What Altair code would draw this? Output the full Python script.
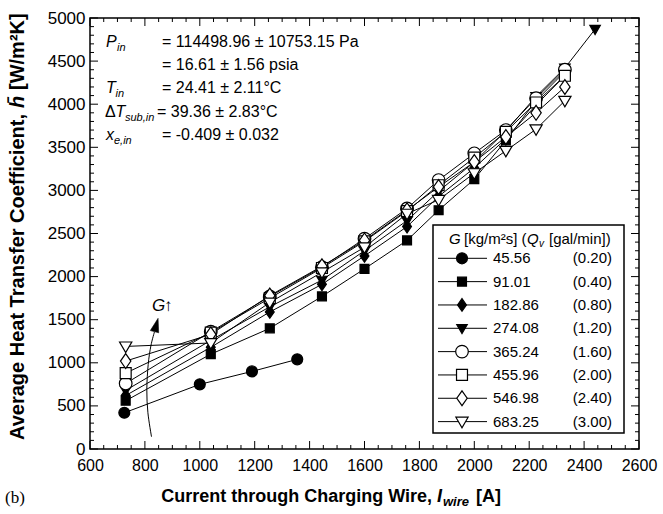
import altair as alt
import pandas as pd

W, H = 549, 431

# ---------------- data ----------------
G_labels = ["45.56", "91.01", "182.86", "274.08", "365.24", "455.96", "546.98", "683.25"]
Q_labels = ["(0.20)", "(0.40)", "(0.80)", "(1.20)", "(1.60)", "(2.00)", "(2.40)", "(3.00)"]

I_std = [730, 1040, 1255, 1445, 1600, 1755, 1870, 2000, 2115, 2225, 2330]
I_045 = [725, 1000, 1190, 1355]
h_045 = [420, 750, 900, 1040]
h_091 = [560, 1100, 1400, 1770, 2090, 2420, 2770, 3130, 3580, 4040, 4380]
h_183 = [620, 1180, 1590, 1910, 2240, 2580, 2930, 3260, 3600, 3990, 4330]
I_274 = I_std + [2440]
h_274 = [680, 1260, 1650, 1960, 2300, 2650, 2990, 3330, 3690, 4090, 4420, 4870]
h_365 = [760, 1360, 1770, 2110, 2440, 2790, 3120, 3430, 3700, 4070, 4400]
h_456 = [880, 1350, 1750, 2100, 2410, 2760, 3060, 3380, 3680, 4020, 4330]
h_547 = [1020, 1330, 1780, 2120, 2420, 2770, 3040, 3330, 3620, 3900, 4200]
h_683 = [1190, 1230, 1700, 2050, 2340, 2730, 2890, 3200, 3460, 3710, 4040]

arrow_I = [824, 811, 807, 812, 822, 835]
arrow_h = [143, 420, 690, 980, 1200, 1360]
arrow_tip_I = [848]
arrow_tip_h = [1516]

x_major = list(range(600, 2601, 200))
x_minor = [v for v in range(600, 2601, 50) if v % 200]
y_major = list(range(0, 5001, 500))
y_minor = [v for v in range(0, 5001, 100) if v % 500]

series_I = [I_045, I_std, I_std, I_274, I_std, I_std, I_std, I_std]
series_h = [h_045, h_091, h_183, h_274, h_365, h_456, h_547, h_683]

rows = []
for g, xs, ys in zip(G_labels, series_I, series_h):
    for a, b in zip(xs, ys):
        rows.append({"series": g, "I": a, "h": b})
df = pd.DataFrame(rows)

# ---------------- styles ----------------
DIAMOND = "M0,-1L0.7,0L0,1L-0.7,0Z"
TRI_DOWN = "M-1,-0.72L1,-0.72L0,1Z"
ARROW_HEAD = "M0,0L0.5,1.6L-0.5,1.6Z"
styles = [
    ("circle", "black", 120),
    ("square", "black", 80),
    (DIAMOND, "black", 160),
    (TRI_DOWN, "black", 110),
    ("circle", "white", 160),
    ("square", "white", 120),
    (DIAMOND, "white", 220),
    (TRI_DOWN, "white", 150),
]

FONT = "Liberation Sans"
xscale = alt.Scale(domain=[600, 2600], nice=False, zero=False)
yscale = alt.Scale(domain=[0, 5000], nice=False, zero=False)
xaxis = alt.Axis(values=x_major, title=None, labelFontSize=16, labelPadding=8,
                 format="d", labelFlush=False)
yaxis = alt.Axis(values=y_major, title=None, labelFontSize=17, labelPadding=5,
                 format="d", labelFlush=False)
one = pd.DataFrame({"k": [0]})


def X(f):
    return alt.X(f, scale=xscale, axis=xaxis)


def Y(f):
    return alt.Y(f, scale=yscale, axis=yaxis)


def txt(s, x, y, size=16, italic=False, bold=False, align="left",
        baseline="alphabetic", angle=0, font=FONT):
    return alt.Chart(one).mark_text(
        text=s, fontSize=size, font=font,
        fontStyle="italic" if italic else "normal",
        fontWeight="bold" if bold else "normal",
        align=align, baseline=baseline, angle=angle, color="black",
    ).encode(x=alt.value(x), y=alt.value(y))


layers = []

# main lines
layers.append(alt.Chart(df).mark_line(color="black", strokeWidth=1).encode(
    x=X("I:Q"), y=Y("h:Q"), detail="series:N", order="I:Q"))

# inward ticks on all four sides
for vals, ln in [(x_major, 8), (x_minor, 4)]:
    d = pd.DataFrame({"I": vals})
    layers.append(alt.Chart(d).mark_rule(color="black", strokeWidth=1).encode(
        x=X("I:Q"), y=alt.value(H), y2=alt.value(H - ln)))
    layers.append(alt.Chart(d).mark_rule(color="black", strokeWidth=1).encode(
        x=X("I:Q"), y=alt.value(0), y2=alt.value(ln)))
for vals, ln in [(y_major, 8), (y_minor, 4)]:
    d = pd.DataFrame({"h": vals})
    layers.append(alt.Chart(d).mark_rule(color="black", strokeWidth=1).encode(
        y=Y("h:Q"), x=alt.value(0), x2=alt.value(ln)))
    layers.append(alt.Chart(d).mark_rule(color="black", strokeWidth=1).encode(
        y=Y("h:Q"), x=alt.value(W), x2=alt.value(W - ln)))

# G arrow
arr = pd.DataFrame({"I": arrow_I, "h": arrow_h, "k": list(range(len(arrow_I)))})
layers.append(alt.Chart(arr).mark_line(color="black", strokeWidth=1, interpolate="cardinal").encode(
    x=X("I:Q"), y=Y("h:Q"), order="k:Q"))
tip = pd.DataFrame({"I": arrow_tip_I, "h": arrow_tip_h})
layers.append(alt.Chart(tip).mark_point(shape=ARROW_HEAD, size=300, filled=True, fill="black",
                                        stroke="black", strokeWidth=0.5, angle=15, opacity=1).encode(
    x=X("I:Q"), y=Y("h:Q")))
layers.append(txt("G", 62, 293, size=17, italic=True))
layers.append(txt("↑", 74, 293, size=17))

# markers per series
for g, (shp, fill, size) in zip(G_labels, styles):
    layers.append(alt.Chart(df[df.series == g]).mark_point(
        shape=shp, size=size, filled=True, fill=fill, stroke="black",
        strokeWidth=1.2, opacity=1).encode(x=X("I:Q"), y=Y("h:Q")))

# legend box
layers.append(alt.Chart(one).mark_rect(fill="white", stroke="black", strokeWidth=1.5).encode(
    x=alt.value(343), x2=alt.value(534), y=alt.value(207), y2=alt.value(415)))
layers.append(txt("G", 359, 226, size=15, italic=True))
layers.append(txt("[kg/m²s] (", 374, 226, size=15))
layers.append(txt("Q", 437, 226, size=15, italic=True))
layers.append(txt("v", 449, 229, size=10, italic=True))
layers.append(txt("[gal/min])", 459, 226, size=15))
for i, (g, q, (shp, fill, size)) in enumerate(zip(G_labels, Q_labels, styles)):
    py = 240.3 + i * 23.33
    layers.append(alt.Chart(one).mark_rule(color="black", strokeWidth=1).encode(
        x=alt.value(348), x2=alt.value(397), y=alt.value(py)))
    layers.append(alt.Chart(one).mark_point(
        shape=shp, size=size, filled=True, fill=fill, stroke="black",
        strokeWidth=1.2, opacity=1).encode(x=alt.value(372), y=alt.value(py)))
    layers.append(txt(g, 403, py, size=15, baseline="middle"))
    layers.append(txt(q, 522, py, size=15, baseline="middle", align="right"))

# condition annotations
layers += [
    txt("P", 16, 29, italic=True), txt("in", 27, 33, size=11, italic=True),
    txt("= 114498.96 ± 10753.15 Pa", 72, 29),
    txt("= 16.61 ± 1.56 psia", 72, 52),
    txt("T", 16, 75, italic=True), txt("in", 25.5, 79, size=11, italic=True),
    txt("= 24.41 ± 2.11°C", 72, 75),
    txt("Δ", 15, 99), txt("T", 25.5, 99, italic=True),
    txt("sub,in", 35, 103, size=11, italic=True),
    txt("= 39.36 ± 2.83°C", 67, 99),
    txt("x", 16, 122, italic=True), txt("e,in", 24, 126, size=11, italic=True),
    txt("= -0.409 ± 0.032", 72, 122),
]

# axis titles
layers += [
    txt("Current through Charging Wire,", 342, 484, size=18, bold=True, align="right"),
    txt("I", 347, 484, size=18, bold=True, italic=True),
    txt("wire", 353, 488, size=13, bold=True, italic=True),
    txt("[A]", 386, 484, size=18, bold=True),
    txt("Average Heat Transfer Coefficient,", -66, 96, size=20, bold=True, align="right", angle=270),
    txt("h\u0304", -66, 90, size=20, bold=True, italic=True, align="left", angle=270),
    txt("[W/m²K]", -66, 72, size=20, bold=True, align="left", angle=270),
    txt("(b)", -85, 485, size=17, font="Liberation Serif"),
]

chart = alt.layer(*layers).properties(
    width=W, height=H,
    autosize=alt.AutoSizeParams(type="none"),
    padding={"left": 90, "top": 18, "right": 24, "bottom": 65},
).configure_view(stroke="black", strokeWidth=1.5).configure_axis(
    labelFont=FONT, labelColor="black", grid=False, domain=False, ticks=False,
)

chart.save("out.html", embed_options={"renderer": "svg", "actions": False})
